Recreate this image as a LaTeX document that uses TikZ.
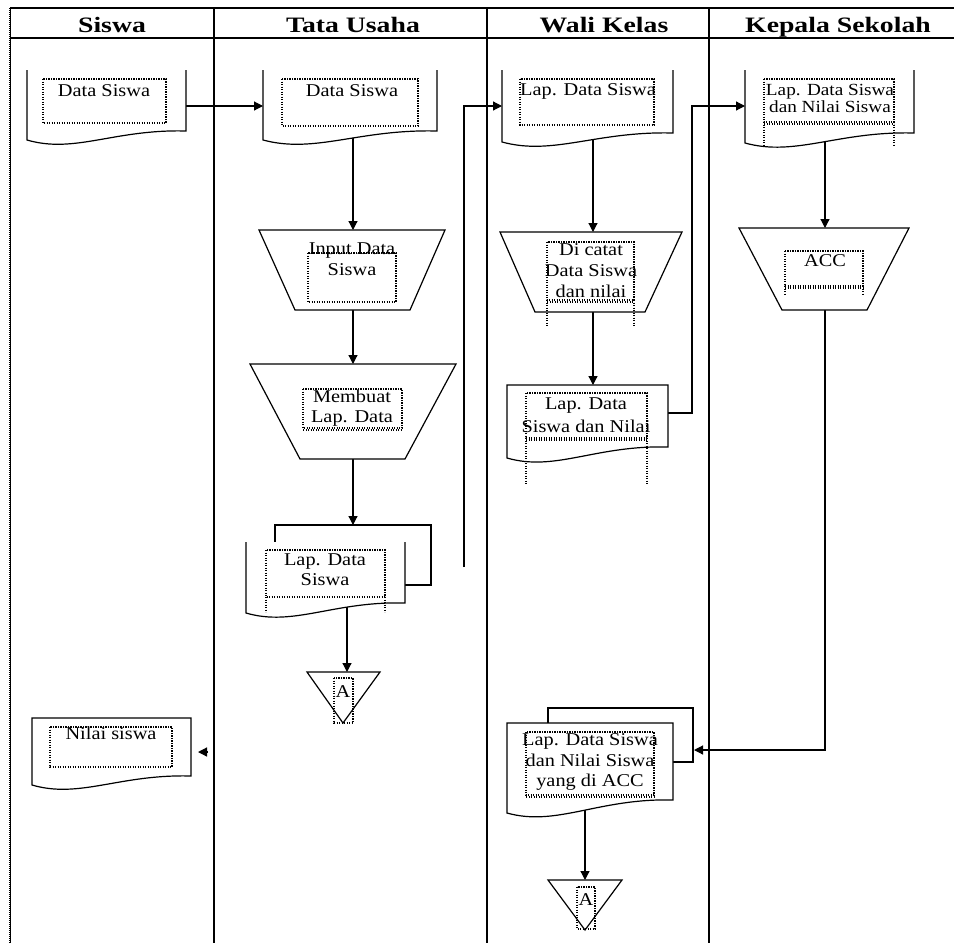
\documentclass[tikz,border=0pt]{standalone}
\usepackage{fontspec}
\setmainfont{Liberation Serif}
\usetikzlibrary{arrows.meta}

% slightly widened lettering
\newcommand\wtxt[1]{\scalebox{1.13}[1]{#1}}
\newcommand\htxt[1]{\scalebox{1.26}[1]{#1}}

% document shape without a top edge: left, right, top, right bottom, left bottom
\newcommand\docopen[5]{%
  \fill[white] (#1,#3) -- (#1,#5) .. controls ({#1+0.3*(#2-#1)},{#5+14}) and ({#1+0.55*(#2-#1)},{#4-2}) .. (#2,#4) -- (#2,#3) -- cycle;
  \draw[ln] (#1,#3) -- (#1,#5) .. controls ({#1+0.3*(#2-#1)},{#5+14}) and ({#1+0.55*(#2-#1)},{#4-2}) .. (#2,#4) -- (#2,#3);}
% closed document shape
\newcommand\docclosed[5]{%
  \filldraw[ln,fill=white] (#1,#3) -- (#1,#5) .. controls ({#1+0.3*(#2-#1)},{#5+14}) and ({#1+0.55*(#2-#1)},{#4-2}) .. (#2,#4) -- (#2,#3) -- cycle;}
% manual operation: top y, top left, top right, bottom y, bottom left, bottom right
\newcommand\trapz[6]{%
  \filldraw[ln,fill=white] (#2,#1) -- (#3,#1) -- (#6,#4) -- (#5,#4) -- cycle;}
% dotted text frame: left, right, top, bottom
\newcommand\tbox[4]{\draw[box] (#1,#3) rectangle (#2,#4);}

\tikzset{
  ln/.style={line width=1.2pt, line join=miter},
  box/.style={line width=1.1pt, dash pattern=on 1.1pt off 1.4pt},
  arr/.style={ln, -{Triangle[length=9pt,width=9pt]}},
  lbl/.style={font=\fontsize{18}{21}\selectfont, align=center, inner sep=0pt},
  hdr/.style={font=\fontsize{22}{24}\selectfont\bfseries, inner sep=0pt, anchor=base},
}

\begin{document}
\begin{tikzpicture}[x=1pt,y=-1pt]
\useasboundingbox (0,0) rectangle (954,943);
\fill[white] (0,0) rectangle (954,943);

% ---------- swimlane frame ----------
\draw[line width=1pt] (10,8) -- (10,943);
\draw[line width=2.6pt, dash pattern=on 1pt off 1pt] (10,8) -- (10,943);
\draw[ln] (10,8) -- (954,8);
\draw[ln] (10,38) -- (954,38);
\foreach \lx in {214,487,709} \draw[ln] (\lx,8) -- (\lx,943);

\node[hdr] (hSiswa) at (112,32) {\htxt{Siswa}};
\node[hdr] (hTU)    at (353,32) {\htxt{Tata Usaha}};
\node[hdr] (hWK)    at (604,32) {\htxt{Wali Kelas}};
\node[hdr] (hKS)    at (838,32) {\htxt{Kepala Sekolah}};

% ---------- connection points ----------
\coordinate (d1in)  at (120,106);  \coordinate (d1e)  at (186,106);
\coordinate (d2w)   at (263,106);  \coordinate (d2in) at (353,110);
\coordinate (tr1t)  at (353,230);  \coordinate (tr1in) at (353,280);
\coordinate (tr2t)  at (353,364);  \coordinate (tr2in) at (353,420);
\coordinate (mdt)   at (353,525);  \coordinate (mdin) at (347,580);
\coordinate (tri1t) at (347,672);
\coordinate (tuUp)  at (464,567);  \coordinate (tuBend) at (464,106);
\coordinate (d3w)   at (502,106);  \coordinate (d3in) at (593,110);
\coordinate (tr3t)  at (593,232);  \coordinate (tr3in) at (593,280);
\coordinate (d4t)   at (593,385);  \coordinate (d4in) at (640,413);
\coordinate (d4b1)  at (692,413);  \coordinate (d4b2) at (692,106);
\coordinate (d5w)   at (745,106);  \coordinate (d5in) at (825,110);
\coordinate (tr4t)  at (825,228);  \coordinate (tr4in) at (825,270);
\coordinate (ksDown) at (825,750); \coordinate (d6e) at (694,750);
\coordinate (d6in)  at (585,790);  \coordinate (tri2t) at (585,880);
\coordinate (stubA) at (208,752);  \coordinate (stubB) at (198,752);

% ---------- connectors ----------
\draw[arr] (d1in) -- (d2w);
\draw[arr] (d2in) -- (tr1t);
\draw[arr] (tr1in) -- (tr2t);
\draw[arr] (tr2in) -- (mdt);
\draw[arr] (mdin) -- (tri1t);
\draw[arr] (tuUp) -- (tuBend) -- (d3w);
\draw[arr] (d3in) -- (tr3t);
\draw[arr] (tr3in) -- (d4t);
\draw[arr] (d4in) -- (d4b1) -- (d4b2) -- (d5w);
\draw[arr] (d5in) -- (tr4t);
\draw[arr] (tr4in) -- (ksDown) -- (d6e);
\draw[arr] (d6in) -- (tri2t);
\draw[arr] (stubA) -- (stubB);

% ---------- Siswa ----------
\docopen{27}{186}{70}{131}{140}
\tbox{43}{166}{79}{123}
\node[lbl] (tD1) at (104,91) {\wtxt{Data Siswa}};

\docclosed{32}{191}{718}{776}{785}
\tbox{50}{172}{727}{767}
\node[lbl] (tNilai) at (111,733) {\wtxt{Nilai siswa}};

% ---------- Tata Usaha ----------
\docopen{263}{437}{70}{131}{140}
\tbox{282}{418}{79}{126}
\node[lbl] (tD2) at (352,91) {\wtxt{Data Siswa}};

\trapz{230}{259}{445}{310}{295}{410}
\tbox{308}{396}{253}{302}
\node[lbl] (tTr1) at (352,259) {\wtxt{Input Data}\\\wtxt{Siswa}};

\trapz{364}{250}{456}{459}{300}{405}
\tbox{303}{402}{389}{428}
\draw[box] (303,430) -- (402,430);
\node[lbl,font=\fontsize{18}{20}\selectfont] (tTr2) at (352,408) {\wtxt{Membuat}\\\wtxt{Lap. Data}};

% multi-document
\fill[white] (275,525) rectangle (431,585);
\draw[ln] (275,542) -- (275,525) -- (431,525) -- (431,585) -- (405,585);
\docopen{246}{405}{542}{603}{613}
\tbox{266}{385}{550}{597}
\draw[box] (266,597) -- (266,612) (385,597) -- (385,612);
\node[lbl,font=\fontsize{18}{20}\selectfont] (tMd) at (325,570) {\wtxt{Lap. Data}\\\wtxt{Siswa}};

\filldraw[ln,fill=white] (307,672) -- (380,672) -- (343,723) -- cycle;
\tbox{334}{353}{678}{723}
\node[lbl] (tA1) at (343,692) {\wtxt{A}};

% ---------- Wali Kelas ----------
\docopen{502}{673}{70}{133}{142}
\tbox{520}{654}{79}{125}
\node[lbl] (tD3) at (588,91) {\wtxt{Lap. Data Siswa}};

\trapz{232}{500}{682}{312}{535}{645}
\tbox{547}{634}{242}{300}
\draw[box] (547,300) -- (547,327) (634,300) -- (634,327) (547,302) -- (634,302);
\node[lbl,font=\fontsize{18}{21}\selectfont] (tTr3) at (591,271) {\wtxt{Di catat}\\\wtxt{Data Siswa}\\\wtxt{dan nilai}};

\docclosed{507}{668}{385}{447}{458}
\tbox{526}{647}{393}{438}
\draw[box] (526,438) -- (526,485) (647,438) -- (647,485) (526,440) -- (647,440);
\node[lbl,font=\fontsize{18}{23}\selectfont] (tD4) at (586,415) {\wtxt{Lap. Data}\\\wtxt{Siswa dan Nilai}};

% multi-document
\fill[white] (548,708) rectangle (693,762);
\draw[ln] (548,723) -- (548,708) -- (693,708) -- (693,762) -- (673,762);
\docclosed{507}{673}{723}{800}{813}
\tbox{526}{654}{732}{795}
\draw[box] (526,797) -- (654,797);
\node[lbl,font=\fontsize{18}{20.5}\selectfont] (tD6) at (590,762) {\wtxt{Lap. Data Siswa}\\\wtxt{dan Nilai Siswa}\\\wtxt{yang di ACC}};

\filldraw[ln,fill=white] (548,880) -- (622,880) -- (585,930) -- cycle;
\tbox{577}{595}{887}{929}
\node[lbl] (tA2) at (586,900) {\wtxt{A}};

% ---------- Kepala Sekolah ----------
\docopen{745}{914}{70}{133}{143}
\tbox{764}{894}{79}{122}
\draw[box] (764,122) -- (764,145) (894,122) -- (894,145) (764,124) -- (894,124);
\node[lbl,font=\fontsize{17}{17}\selectfont] (tD5) at (830,98) {\wtxt{Lap. Data Siswa}\\\wtxt{dan Nilai Siswa}};

\trapz{228}{739}{909}{310}{782}{867}
\tbox{785}{863}{251}{286}
\draw[box] (785,286) -- (785,295) (863,286) -- (863,295) (785,288) -- (863,288);
\node[lbl] (tTr4) at (825,261) {\wtxt{ACC}};
\end{tikzpicture}
\end{document}
